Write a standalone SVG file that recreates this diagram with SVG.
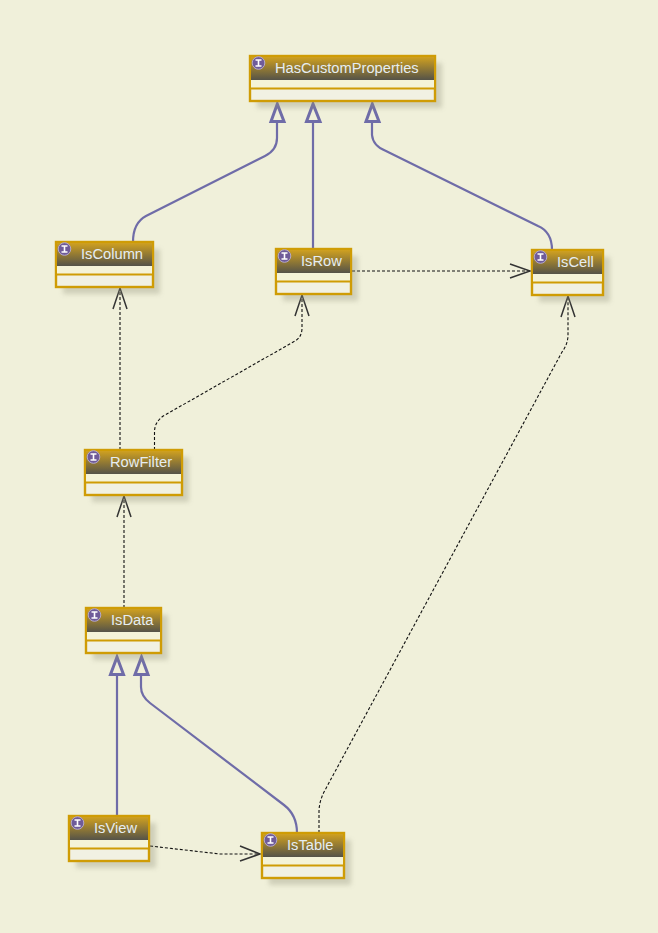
<svg xmlns="http://www.w3.org/2000/svg" width="658" height="933" viewBox="0 0 658 933">
<style>
.bg{fill:#f0f0da}
.shadow{fill:#8f8f78;opacity:.34;filter:url(#blur)}
.box{fill:#f1f1e3;stroke:#cf9c05;stroke-width:2.400}
.attr{fill:#f4f3d8}
.head{fill:url(#hg)}
.div{stroke:#cf9c05;stroke-width:2.200}
.t{font:14.700px "Liberation Sans",Arial,sans-serif;fill:#e6edf2}
.ic{fill:#6f5b99;stroke:#b5aac8;stroke-width:1}
.gen{fill:none;stroke:#6f6ca8;stroke-width:2.200}
.hd{fill:none;stroke:#6f6ca8;stroke-width:3}
.dep{fill:none;stroke:#111;stroke-width:1.100;stroke-dasharray:3 2}
.ah{fill:none;stroke:#333;stroke-width:1.500}
</style>
<defs>
<linearGradient id="hg" x1="0" y1="0" x2="0" y2="1"><stop offset="0" stop-color="#cfa020"/><stop offset="1" stop-color="#555348"/></linearGradient>
<filter id="blur" x="-20%" y="-20%" width="140%" height="140%"><feGaussianBlur stdDeviation="2.500"/></filter>
<g id="node-icon"><circle cx="0" cy="0" r="6.300" class="ic"/><path d="M-3-3H3M-3 3H3M0-3V3" stroke="#fff" stroke-width="1.600" fill="none"/></g>
</defs>
<rect class="bg" width="658" height="933"/>
<g id="connectors">
<path class="gen" d="M277 121V138Q277 150 265 156L146 216Q133 223 133 242"/>
<path class="hd" d="M277.300 104L271 121.500H284Z"/>
<path class="gen" d="M313 121V249"/>
<path class="hd" d="M313 104L306.500 121.500H320Z"/>
<path class="gen" d="M372 121V135Q373 146 386 151L538 226Q552 232 552 250"/>
<path class="hd" d="M372.300 104L366 121.500H379Z"/>
<path class="dep" d="M352 271H530"/>
<path class="ah" d="M510 264L530 271L510 278"/>
<path class="dep" d="M120 450V289"/>
<path class="ah" d="M113 309L120 288L127 309"/>
<path class="dep" d="M154.500 450V432Q154.500 421 165 415L295 341Q302 337 302 328V296"/>
<path class="ah" d="M295 316L302 295L309 316"/>
<path class="dep" d="M124 608V497"/>
<path class="ah" d="M117 517L124 496L131 517"/>
<path class="dep" d="M319 833V812Q319 802 324 792L562 352Q568 344 568 335V297"/>
<path class="ah" d="M561 317L568 296L575 317"/>
<path class="gen" d="M117 674V816"/>
<path class="hd" d="M117 657L110.500 674.500H123.500Z"/>
<path class="gen" d="M141 674V687Q141 696 150 703L284 805Q297 815 297 833"/>
<path class="hd" d="M141.500 657L135 674.500H148Z"/>
<path class="dep" d="M150 846L220 854H260"/>
<path class="ah" d="M240 846L260 854L240 861"/>
</g>
<g id="HasCustomProperties"><rect class="shadow" x="257" y="63" width="185" height="45"/><rect class="box" x="250" y="56" width="185" height="45"/><rect class="attr" x="251" y="80" width="183" height="8"/><rect class="head" x="251" y="57" width="183" height="23"/><path class="div" d="M250 88.500H435"/><use href="#node-icon" x="258.500" y="63"/><text class="t" x="275" y="73">HasCustomProperties</text></g>
<g id="IsColumn"><rect class="shadow" x="63" y="249" width="97" height="45"/><rect class="box" x="56" y="242" width="97" height="45"/><rect class="attr" x="57" y="266" width="95" height="8"/><rect class="head" x="57" y="243" width="95" height="23"/><path class="div" d="M56 274.500H153"/><use href="#node-icon" x="64.500" y="249"/><text class="t" x="81" y="259">IsColumn</text></g>
<g id="IsRow"><rect class="shadow" x="283" y="256" width="75" height="45"/><rect class="box" x="276" y="249" width="75" height="45"/><rect class="attr" x="277" y="273" width="73" height="8"/><rect class="head" x="277" y="250" width="73" height="23"/><path class="div" d="M276 281.500H351"/><use href="#node-icon" x="284.500" y="256"/><text class="t" x="301" y="266">IsRow</text></g>
<g id="IsCell"><rect class="shadow" x="539" y="257" width="71" height="45"/><rect class="box" x="532" y="250" width="71" height="45"/><rect class="attr" x="533" y="274" width="69" height="8"/><rect class="head" x="533" y="251" width="69" height="23"/><path class="div" d="M532 282.500H603"/><use href="#node-icon" x="540.500" y="257"/><text class="t" x="557" y="267">IsCell</text></g>
<g id="RowFilter"><rect class="shadow" x="92" y="457" width="97" height="45"/><rect class="box" x="85" y="450" width="97" height="45"/><rect class="attr" x="86" y="474" width="95" height="8"/><rect class="head" x="86" y="451" width="95" height="23"/><path class="div" d="M85 482.500H182"/><use href="#node-icon" x="93.500" y="457"/><text class="t" x="110" y="467">RowFilter</text></g>
<g id="IsData"><rect class="shadow" x="93" y="615" width="75" height="45"/><rect class="box" x="86" y="608" width="75" height="45"/><rect class="attr" x="87" y="632" width="73" height="8"/><rect class="head" x="87" y="609" width="73" height="23"/><path class="div" d="M86 640.500H161"/><use href="#node-icon" x="94.500" y="615"/><text class="t" x="111" y="625">IsData</text></g>
<g id="IsView"><rect class="shadow" x="76" y="823" width="80" height="45"/><rect class="box" x="69" y="816" width="80" height="45"/><rect class="attr" x="70" y="840" width="78" height="8"/><rect class="head" x="70" y="817" width="78" height="23"/><path class="div" d="M69 848.500H149"/><use href="#node-icon" x="77.500" y="823"/><text class="t" x="94" y="833">IsView</text></g>
<g id="IsTable"><rect class="shadow" x="269" y="840" width="82" height="45"/><rect class="box" x="262" y="833" width="82" height="45"/><rect class="attr" x="263" y="857" width="80" height="8"/><rect class="head" x="263" y="834" width="80" height="23"/><path class="div" d="M262 865.500H344"/><use href="#node-icon" x="270.500" y="840"/><text class="t" x="287" y="850">IsTable</text></g>
</svg>
